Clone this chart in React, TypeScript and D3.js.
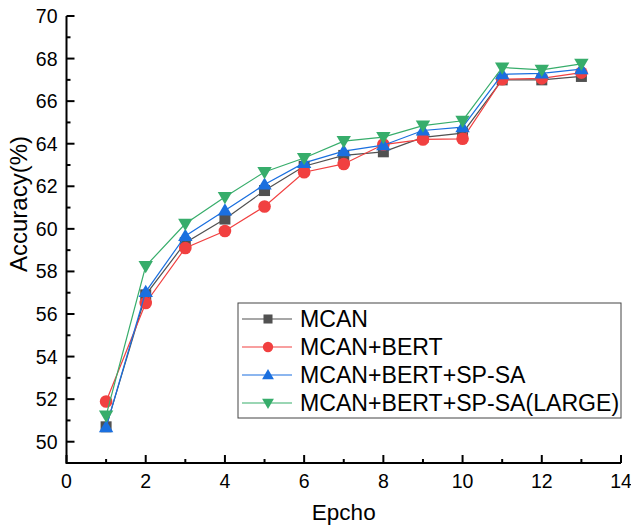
import React from 'react'
import * as d3 from 'd3'

const epochs = [1, 2, 3, 4, 5, 6, 7, 8, 9, 10, 11, 12, 13]
const mcan = [50.7, 56.9, 59.35, 60.46, 61.8, 62.94, 63.45, 63.62, 64.3, 64.5, 67.0, 67.0, 67.16]
const mcanBert = [51.89, 56.52, 59.1, 59.9, 61.05, 62.66, 63.05, 63.96, 64.2, 64.23, 67.03, 67.07, 67.34]
const spsa = [50.68, 57.04, 59.67, 60.86, 62.08, 63.1, 63.65, 63.93, 64.62, 64.78, 67.26, 67.3, 67.5]
const spsaLarge = [51.23, 58.25, 60.24, 61.5, 62.67, 63.33, 64.12, 64.31, 64.85, 65.08, 67.58, 67.47, 67.75]

const seriesNames = ['MCAN', 'MCAN+BERT', 'MCAN+BERT+SP-SA', 'MCAN+BERT+SP-SA(LARGE)']
const colors = ['#515151', '#F14040', '#1A6FDF', '#37AD6B']
const symbols = ['square', 'circle', 'triangle', 'triangleDown']

const xTicks = [0, 2, 4, 6, 8, 10, 12, 14]
const yTicks = [50, 52, 54, 56, 58, 60, 62, 64, 66, 68, 70]

const W = 631
const H = 526
const margin = { top: 16, right: 10, bottom: 63, left: 66.5 }
const font = 'Arial, "Liberation Sans", sans-serif'

const Marker = ({ type, x, y, color, k = 1 }: { type: string; x: number; y: number; color: string; k?: number }) => {
    if (type === 'square') {
        const h = 5.5 * k
        return <rect x={x - h} y={y - h} width={2 * h} height={2 * h} fill={color} />
    }
    if (type === 'circle') {
        return <circle cx={x} cy={y} r={6.3 * k} fill={color} />
    }
    const s = 7.2 * k
    if (type === 'triangle') {
        return <path d={`M${x},${y - s} L${x + s},${y + s * 0.7} L${x - s},${y + s * 0.7} Z`} fill={color} />
    }
    return <path d={`M${x},${y + s} L${x + s},${y - s * 0.7} L${x - s},${y - s * 0.7} Z`} fill={color} />
}

const App = () => {
    const x = d3.scaleLinear().domain([0, 14]).range([margin.left, W - margin.right])
    const y = d3.scaleLinear().domain([49, 70]).range([H - margin.bottom, margin.top])

    const data = [mcan, mcanBert, spsa, spsaLarge]
    const line = d3.line<number>()
        .x((_, i) => x(epochs[i]))
        .y(d => y(d))

    const xMinor = d3.range(1, 14, 2)
    const yMinor = d3.range(49, 70, 2)

    const legend = { x: 238, y: 303, w: 383, h: 115, row: 28 }

    return (
        <svg width={W} height={H} style={{ position: 'absolute', left: 0, top: 0, background: '#fff' }}
            fontFamily={font}>
            {data.map((vals, si) => (
                <g key={si}>
                    <path d={line(vals) || ''} fill="none" stroke={colors[si]} strokeWidth={1.2} />
                    {vals.map((v, i) => (
                        <Marker key={i} type={symbols[si]} x={x(epochs[i])} y={y(v)} color={colors[si]} />
                    ))}
                </g>
            ))}

            {/* axes */}
            <line x1={x(0)} x2={x(14)} y1={y(49)} y2={y(49)} stroke="#000" strokeWidth={2} />
            <line x1={x(0)} x2={x(0)} y1={y(49) + 1} y2={y(70)} stroke="#000" strokeWidth={2} />
            {xTicks.map(t => (
                <g key={t}>
                    <line x1={x(t)} x2={x(t)} y1={y(49)} y2={y(49) - 8} stroke="#000" strokeWidth={2} />
                    <text x={x(t)} y={y(49) + 25} textAnchor="middle" fontSize={19.5}>{t}</text>
                </g>
            ))}
            {xMinor.map(t => (
                <line key={t} x1={x(t)} x2={x(t)} y1={y(49)} y2={y(49) - 4} stroke="#000" strokeWidth={2} />
            ))}
            {yTicks.map(t => (
                <g key={t}>
                    <line x1={x(0)} x2={x(0) + 8} y1={y(t)} y2={y(t)} stroke="#000" strokeWidth={2} />
                    <text x={x(0) - 9} y={y(t) + 7} textAnchor="end" fontSize={19.5}>{t}</text>
                </g>
            ))}
            {yMinor.map(t => (
                <line key={t} x1={x(0)} x2={x(0) + 4} y1={y(t)} y2={y(t)} stroke="#000" strokeWidth={2} />
            ))}

            <text x={(x(0) + x(14)) / 2} y={520} textAnchor="middle" fontSize={22.5}>Epcho</text>
            <text transform="translate(27,204) rotate(-90)" textAnchor="middle" fontSize={24}>
                Accuracy(%)
            </text>

            {/* legend */}
            <rect x={legend.x} y={legend.y} width={legend.w} height={legend.h} fill="#fff" stroke="#444" strokeWidth={1} />
            {seriesNames.map((name, i) => {
                const cy = legend.y + 16 + i * legend.row
                return (
                    <g key={name}>
                        <line x1={legend.x + 4} x2={legend.x + 54} y1={cy} y2={cy} stroke={colors[i]} strokeWidth={1.2} />
                        <Marker type={symbols[i]} x={legend.x + 30} y={cy} color={colors[i]} k={0.82} />
                        <text x={legend.x + 62} y={cy + 8} fontSize={23.1}>{name}</text>
                    </g>
                )
            })}
        </svg>
    )
}

export default App
